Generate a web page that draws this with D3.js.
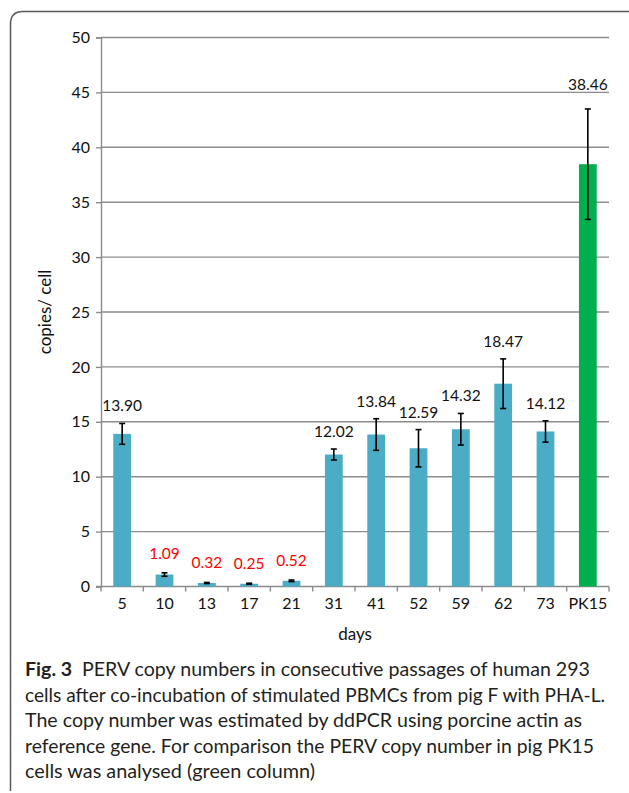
<!DOCTYPE html>
<html>
<head>
<meta charset="utf-8">
<script src="https://cdn.jsdelivr.net/npm/d3@7"></script>
<style>
  html, body { margin: 0; padding: 0; background: #fff; }
  svg { display: block; }
</style>
</head>
<body>
<svg id="fig" width="629" height="793"></svg>
<script>
// Sampling day of each passage, plus the PK15 reference
const days = ["5", "10", "13", "17", "21", "31", "41", "52", "59", "62", "73", "PK15"];
// Mean PERV copies per cell (ddPCR)
const copies = [13.90, 1.09, 0.32, 0.25, 0.52, 12.02, 13.84, 12.59, 14.32, 18.47, 14.12, 38.46];
// Error bar half-widths
const errors = [0.95, 0.16, 0.05, 0.05, 0.07, 0.50, 1.44, 1.70, 1.44, 2.26, 0.97, 5.03];
// Which group each column belongs to
const groups = ["293", "293", "293", "293", "293", "293", "293", "293", "293", "293", "293", "PK15"];
const yTicks = [0, 5, 10, 15, 20, 25, 30, 35, 40, 45, 50];
const captionLines = [
  "PERV copy numbers in consecutive passages of human 293",
  "cells after co-incubation of stimulated PBMCs from pig F with PHA-L.",
  "The copy number was estimated by ddPCR using porcine actin as",
  "reference gene. For comparison the PERV copy number in pig PK15",
  "cells was analysed (green column)"
];
const captionLabel = "Fig. 3";

const svg = d3.select("#fig");
const gridColor = "#8c8c8c";
const chartFont = "Lato, 'Open Sans', sans-serif";

// Outer frame with a rounded top-left corner
svg.append("path")
  .attr("d", "M10.5,791 L10.5,24 Q10.5,11.5 23,11.5 L640,11.5")
  .attr("fill", "none")
  .attr("stroke", "#5a5a5a")
  .attr("stroke-width", 1.5);

const plot = { left: 101, right: 609, top: 37.5, bottom: 586.5 };

const x = d3.scaleBand().domain(days).range([plot.left, plot.right]).padding(0);
const y = d3.scaleLinear().domain([0, 50]).range([plot.bottom, plot.top]);
const barW = x.bandwidth() * 0.42;

// Horizontal gridlines
svg.append("g").selectAll("line")
  .data(yTicks.filter(t => t > 0))
  .join("line")
  .attr("x1", plot.left).attr("x2", plot.right)
  .attr("y1", d => y(d)).attr("y2", d => y(d))
  .attr("stroke", gridColor).attr("stroke-width", 1.4);

// Y axis
const yAxis = svg.append("g")
  .attr("transform", `translate(${plot.left},0)`)
  .call(d3.axisLeft(y).tickValues(yTicks).tickSize(5).tickPadding(6));
yAxis.select(".domain").attr("stroke", gridColor).attr("stroke-width", 1.4);
yAxis.selectAll(".tick line").attr("stroke", gridColor).attr("stroke-width", 1.4);
yAxis.selectAll(".tick text")
  .attr("font-family", chartFont).attr("font-size", 16).attr("fill", "#111");

// X axis: labels under each column, tick marks between columns
const xAxis = svg.append("g")
  .attr("transform", `translate(0,${plot.bottom})`)
  .call(d3.axisBottom(x).tickSize(0).tickPadding(11));
xAxis.select(".domain").remove();
xAxis.selectAll(".tick text")
  .attr("font-family", chartFont).attr("font-size", 16).attr("fill", "#111");
svg.append("line")
  .attr("x1", plot.left - 5).attr("x2", plot.right)
  .attr("y1", plot.bottom).attr("y2", plot.bottom)
  .attr("stroke", gridColor).attr("stroke-width", 1.4);
const bounds = days.map(d => x(d)).concat([x(days[days.length - 1]) + x.bandwidth()]);
svg.append("g").selectAll("line")
  .data(bounds)
  .join("line")
  .attr("x1", d => d).attr("x2", d => d)
  .attr("y1", plot.bottom).attr("y2", plot.bottom + 5)
  .attr("stroke", gridColor).attr("stroke-width", 1.4);

const color = d3.scaleOrdinal().domain(["293", "PK15"]).range(["#4bacc6", "#00b050"]);
const rows = days.map((d, i) => ({ day: d, value: copies[i], err: errors[i], group: groups[i] }));

// Columns
svg.append("g").selectAll("rect")
  .data(rows)
  .join("rect")
  .attr("x", d => x(d.day) + (x.bandwidth() - barW) / 2)
  .attr("width", barW)
  .attr("y", d => y(d.value))
  .attr("height", d => y(0) - y(d.value))
  .attr("fill", d => color(d.group));

// Error bars
const eb = svg.append("g").selectAll("g")
  .data(rows)
  .join("g")
  .attr("stroke", "#000")
  .attr("stroke-width", 1.6);
eb.append("line")
  .attr("x1", d => x(d.day) + x.bandwidth() / 2).attr("x2", d => x(d.day) + x.bandwidth() / 2)
  .attr("y1", d => y(d.value - d.err)).attr("y2", d => y(d.value + d.err));
[-1, 1].forEach(s => {
  eb.append("line")
    .attr("x1", d => x(d.day) + x.bandwidth() / 2 - 3).attr("x2", d => x(d.day) + x.bandwidth() / 2 + 3)
    .attr("y1", d => y(d.value + s * d.err)).attr("y2", d => y(d.value + s * d.err));
});

// Value labels above the error bars; low values in red
svg.append("g").selectAll("text")
  .data(rows)
  .join("text")
  .attr("x", d => x(d.day) + x.bandwidth() / 2)
  .attr("y", d => y(d.value + d.err) - (d.value < 5 ? 14 : d.value > 30 ? 19 : 12))
  .attr("text-anchor", "middle")
  .attr("font-family", chartFont)
  .attr("font-size", 15.5)
  .attr("fill", d => d.value < 5 ? "#ff0000" : "#111")
  .text(d => d.value.toFixed(2));

// Axis titles
svg.append("text")
  .attr("transform", `translate(51,${(plot.top + plot.bottom) / 2}) rotate(-90)`)
  .attr("text-anchor", "middle")
  .attr("font-family", chartFont).attr("font-size", 17).attr("fill", "#111")
  .text("copies/ cell");
svg.append("text")
  .attr("x", (plot.left + plot.right) / 2).attr("y", 640)
  .attr("text-anchor", "middle")
  .attr("font-family", chartFont).attr("font-size", 17).attr("fill", "#111")
  .text("days");

// Caption, each line stretched to its set width
const capFont = "Lato, 'Open Sans', sans-serif";
const capEnds = [590, 605, 582, 594, 315];
const capLeft = 25;
const cap = svg.append("g")
  .attr("font-family", capFont).attr("font-size", 19).attr("fill", "#231f20");
captionLines.forEach((line, i) => {
  const t = cap.append("text")
    .attr("x", capLeft).attr("y", 676 + i * 25.5)
    .attr("textLength", capEnds[i] - capLeft)
    .attr("lengthAdjust", "spacingAndGlyphs");
  if (i === 0) {
    t.append("tspan").attr("font-weight", "bold").text(captionLabel);
    t.append("tspan").text("\u2002" + line);
  } else {
    t.text(line);
  }
});
</script>
</body>
</html>
